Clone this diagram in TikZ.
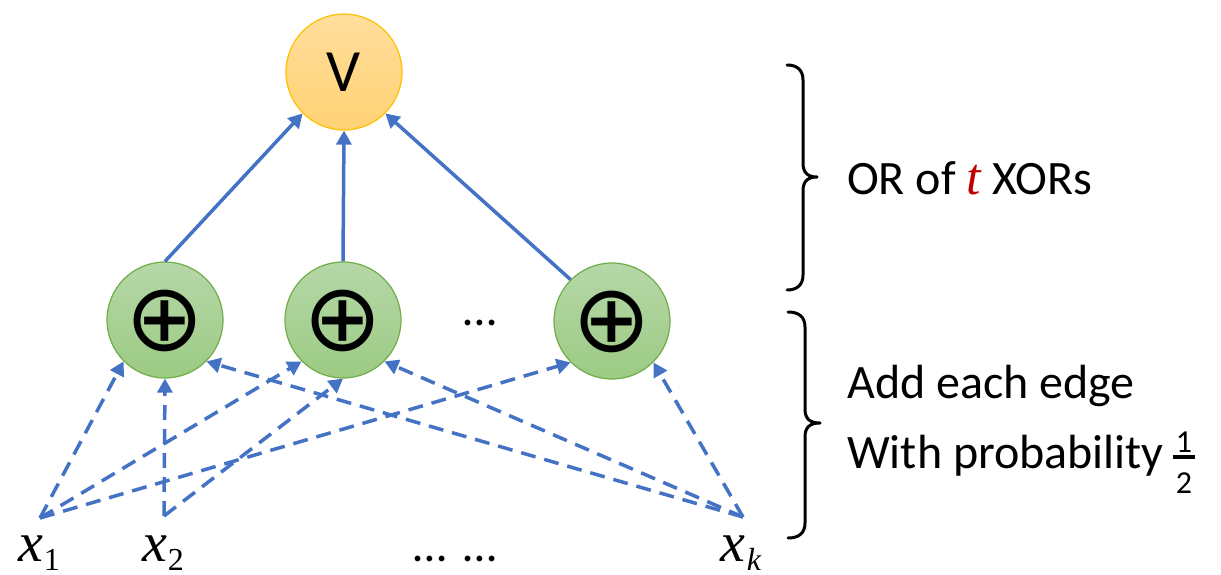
\documentclass[tikz,border=0pt]{standalone}
\usepackage{fontspec}
\setmainfont{Carlito}
\newfontfamily\symfont{DejaVu Sans}
\newfontfamily\varfont{Liberation Serif}
\usetikzlibrary{arrows.meta}
\definecolor{edgeblue}{HTML}{4472C4}
\definecolor{orborder}{HTML}{FFC000}
\definecolor{ortop}{HTML}{FFDE9C}
\definecolor{orbottom}{HTML}{FFD274}
\definecolor{xorborder}{HTML}{70AD47}
\definecolor{xortop}{HTML}{B6D7A8}
\definecolor{xorbottom}{HTML}{9CCB84}
\definecolor{tred}{HTML}{C00000}
% italic variable with an upright subscript
\newcommand{\invar}[1]{{\varfont\itshape\fontsize{56}{60}\selectfont x}\kern1pt\raisebox{-9pt}{\varfont\fontsize{32}{34}\selectfont #1}}
\begin{document}
\begin{tikzpicture}[x=1pt,y=-1pt,
  gate/.style={circle, minimum size=116pt, inner sep=0pt, line width=1.2pt},
  orgate/.style={gate, draw=orborder, top color=ortop, bottom color=orbottom},
  xorgate/.style={gate, draw=xorborder, top color=xortop, bottom color=xorbottom},
  xorsign/.style={font=\symfont\fontsize{94}{94}\selectfont, text depth=0pt},
  solidedge/.style={draw=edgeblue, line width=3.5pt, -{Triangle[length=14pt,width=15pt]}},
  dashedge/.style={draw=edgeblue, line width=3.5pt, dash pattern=on 15pt off 9pt, -{Triangle[length=14pt,width=15pt]}},
  bracepath/.style={draw=black, line width=3pt, line cap=round, line join=round},
  label/.style={font=\fontsize{48}{56}\selectfont, inner sep=0pt},
  varlabel/.style={inner sep=0pt, anchor=base}
]
\useasboundingbox (0,0) rectangle (1221,575);

% gates
\node[orgate] (v) at (344,72) {\fontsize{60}{70}\selectfont V};
\node[xorgate, xorsign] (xor1) at (165,320) {⊕};
\node[xorgate, xorsign] (xor2) at (343,320) {⊕};
\node[xorgate, xorsign] (xor3) at (612,321) {⊕};
\node[label, anchor=base] (gdots) at (480,325) {…};

% inputs
\coordinate (p1) at (40,518);
\coordinate (p2) at (164,516);
\coordinate (pk) at (743,517);
\node[varlabel] (x1) at (39,561) {\invar{1}};
\node[varlabel] (x2) at (163,561) {\invar{2}};
\node[varlabel] (xk) at (741,561) {\invar{\itshape k}};
\node[label, anchor=base] (idots) at (455,561) {…\hspace{0.35em}…};

% gate outputs into the OR
\draw[solidedge] (xor1.north) -- (v.225);
\draw[solidedge] (xor2.north) -- (v.270);
\draw[solidedge] (xor3.135) -- (v.315);

% random input edges
\draw[dashedge] (p1) -- (xor1.225);
\draw[dashedge] (p1) -- (xor2.225);
\draw[dashedge] (p1) -- (xor3.225);
\draw[dashedge] (p2) -- (xor1.270);
\draw[dashedge] (p2) -- (xor2.270);
\draw[dashedge] (pk) -- (xor1.315);
\draw[dashedge] (pk) -- (xor2.315);
\draw[dashedge] (pk) -- (xor3.315);

% braces
\draw[bracepath] (787,65) .. controls (797,65) and (803,70) .. (803,80)
  -- (803,163) .. controls (803,173) and (808,177) .. (817,177)
  .. controls (808,177) and (803,181) .. (803,191)
  -- (803,275) .. controls (803,285) and (797,290) .. (787,290);
\draw[bracepath] (788,312) .. controls (799,312) and (805,317) .. (805,327)
  -- (805,409) .. controls (805,419) and (810,423) .. (820,423)
  .. controls (810,423) and (805,427) .. (805,437)
  -- (805,523) .. controls (805,533) and (799,538) .. (788,538);

% annotations
\node[label, anchor=base west] (ortext) at (847,194)
  {OR of {\color{tred}\varfont\itshape\fontsize{52}{56}\selectfont t} XORs};
\node[label, anchor=base west] (addtext) at (847,398) {Add each edge};
\node[label, anchor=base west] (probtext) at (847,468) {With probability};
\node[inner sep=0pt, anchor=north, font=\fontsize{32}{32}\selectfont] (half) at (1184,432)
  {\vbox{\offinterlineskip\hbox to 22pt{\hss 1\hss}\kern2pt\hrule height 4pt\kern14pt\hbox to 22pt{\hss 2\hss}}};
\end{tikzpicture}
\end{document}
